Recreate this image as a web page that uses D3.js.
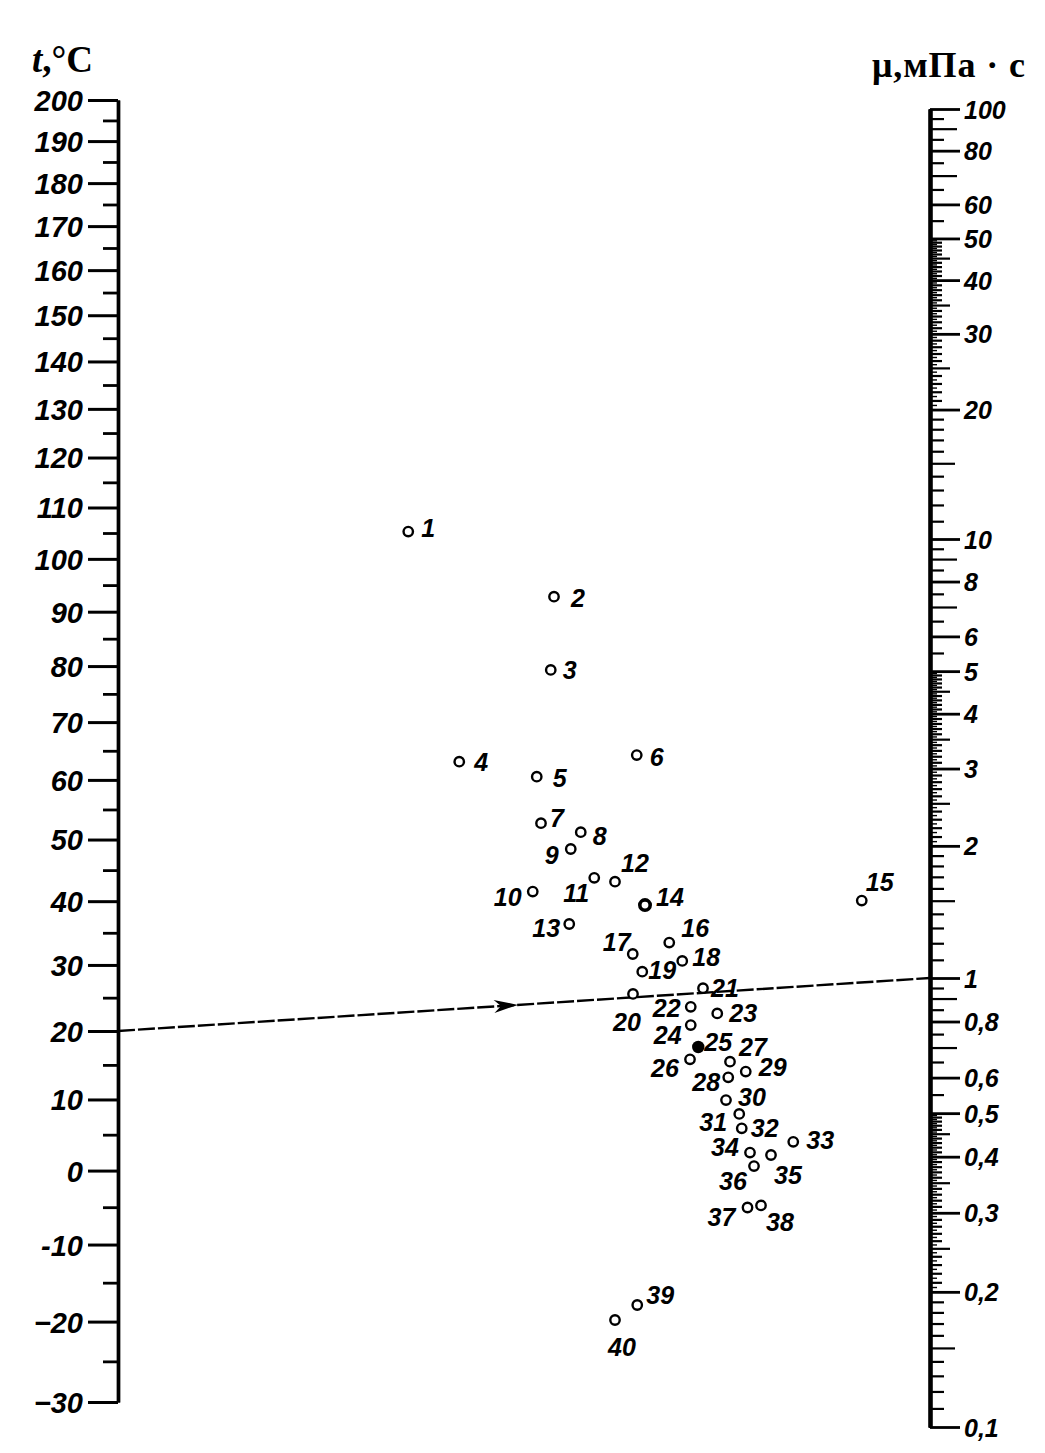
<!DOCTYPE html>
<html>
<head>
<meta charset="utf-8">
<script src="https://cdn.jsdelivr.net/npm/d3@7"></script>
<style>
  html, body { margin: 0; background: #fff; }
  .num { font-family: "Liberation Sans Narrow", "Liberation Sans", Arial, sans-serif; font-weight: bold; font-style: italic; fill: #000; }
  .ttl { font-family: "Liberation Serif", "Times New Roman", serif; font-weight: bold; fill: #000; }
</style>
</head>
<body>
<svg id="chart" width="1045" height="1453"></svg>
<script>
// ---- temperature scale (left), °C ----
const tempMajor = [200, 190, 180, 170, 160, 150, 140, 130, 120, 110, 100, 90, 80, 70, 60, 50, 40, 30, 20, 10, 0, -10, -20, -30];
const tempMajorLabels = ["200", "190", "180", "170", "160", "150", "140", "130", "120", "110", "100", "90", "80", "70", "60", "50", "40", "30", "20", "10", "0", "-10", "\u221220", "\u221230"];
const tempMinor = [195, 185, 175, 165, 155, 145, 135, 125, 115, 105, 95, 85, 75, 65, 55, 45, 35, 25, 15, 5, -5, -15, -25];

// ---- viscosity scale (right), mPa·s ----
const muLabelled = [100, 80, 60, 50, 40, 30, 20, 10, 8, 6, 5, 4, 3, 2, 1, 0.8, 0.6, 0.5, 0.4, 0.3, 0.2, 0.1];
const muLabelText = ["100", "80", "60", "50", "40", "30", "20", "10", "8", "6", "5", "4", "3", "2", "1", "0,8", "0,6", "0,5", "0,4", "0,3", "0,2", "0,1"];

// ---- liquids: numbers and their nomogram grid coordinates ----
const liquidNo = [1, 2, 3, 4, 5, 6, 7, 8, 9, 10, 11, 12, 13, 14, 15, 16, 17, 18, 19, 20,
                  21, 22, 23, 24, 25, 26, 27, 28, 29, 30, 31, 32, 33, 34, 35, 36, 37, 38, 39, 40];
const gridX = [0.33, 6.16, 6.03, 2.37, 5.47, 9.47, 5.64, 7.23, 6.83, 5.31, 7.77, 8.60, 6.77, 9.80, 18.47, 10.77, 9.31, 11.29, 9.69, 9.32,
               12.12, 11.63, 12.69, 11.63, 11.93, 11.60, 13.20, 13.13, 13.83, 13.04, 13.57, 13.67, 15.73, 14.00, 14.84, 14.16, 13.90, 14.44, 9.49, 8.60];
const gridY = [27.28, 25.11, 22.67, 19.61, 19.11, 19.83, 17.56, 17.26, 16.70, 15.28, 15.74, 15.61, 14.20, 14.83, 14.98, 13.58, 13.20, 12.97, 12.61, 11.87,
               12.06, 11.44, 11.22, 10.83, 10.10, 9.69, 9.61, 9.09, 9.28, 8.33, 7.87, 7.39, 6.94, 6.58, 6.50, 6.13, 4.75, 4.82, 1.50, 1.00];

// ---- worked example: 20 °C through liquid 20 gives 1 mPa·s ----
const exampleTemp = 20;
const exampleMu = 1;

// ---------------------------------------------------------------
const svg = d3.select("#chart");
svg.append("rect").attr("width", 1045).attr("height", 1453).attr("fill", "#fff");

const AXIS_T_X = 118, AXIS_MU_X = 930;
const T_SHIFT = 255; // temperature axis is logarithmic in (t + 255)
const tScale = d3.scaleLog().domain([-30 + T_SHIFT, 200 + T_SHIFT]).range([1402, 100]);
const yT = t => tScale(t + T_SHIFT);
const muScale = d3.scaleLog().domain([0.1, 1, 10, 100]).range([1427, 978, 539, 109]);
const gx = d3.scaleLinear().domain([0, 20]).range([400, 900]);
const gy = d3.scaleLinear().domain([0, 30]).range([1350, 450]);

function styleAxis(g, tickW) {
  g.attr("font-size", null).attr("font-family", null);
  g.select(".domain").attr("stroke", "#000").attr("stroke-width", 3.4);
  g.selectAll(".tick line").attr("stroke", "#000").attr("stroke-width", tickW);
}

// left axis: minor then major ticks
const tMinorG = svg.append("g").attr("transform", `translate(${AXIS_T_X},0)`)
  .call(d3.axisLeft(tScale).tickValues(tempMinor.map(t => t + T_SHIFT)).tickSize(15).tickSizeOuter(0).tickFormat(""));
styleAxis(tMinorG, 2.8);
const tMajorG = svg.append("g").attr("transform", `translate(${AXIS_T_X},0)`)
  .call(d3.axisLeft(tScale).tickValues(tempMajor.map(t => t + T_SHIFT)).tickSize(30).tickSizeOuter(0).tickPadding(5)
    .tickFormat((d, i) => tempMajorLabels[i]));
styleAxis(tMajorG, 3);
tMajorG.selectAll(".tick text").attr("class", "num").attr("font-size", 29).attr("dy", "0.36em");

// right axis: graded minor ticks inside each decade
const minorGroups = new Map();
function addMinor(v, len) {
  if (!minorGroups.has(len)) minorGroups.set(len, []);
  minorGroups.get(len).push(v);
}
[0.1, 1, 10].forEach(dec => {
  for (let k = 11; k <= 19; k++) {          // 5.5 … 9.5 step 0.5
    const m = k / 2;
    if (m === 6 || m === 8) continue;
    addMinor(m * dec, (m === 7 || m === 9) ? 27 : 14);
  }
  for (let k = 41; k <= 99; k++) {          // 2.05 … 4.95 step 0.05
    if (k % 20 === 0) continue;
    const m = k / 20;
    let len = 7;
    if (k % 10 === 0) len = 20;
    else if (k % 2 === 0) len = 12;
    addMinor(m * dec, len);
  }
  for (let k = 11; k <= 19; k++) {          // 1.1 … 1.9 step 0.1
    addMinor((k / 10) * dec, k === 15 ? 25 : 14);
  }
});
minorGroups.forEach((vals, len) => {
  const g = svg.append("g").attr("transform", `translate(${AXIS_MU_X},0)`)
    .call(d3.axisRight(muScale).tickValues(vals).tickSize(len).tickSizeOuter(0).tickFormat(""));
  styleAxis(g, len <= 8 ? 1.4 : 2.2);
});
const muG = svg.append("g").attr("transform", `translate(${AXIS_MU_X},0)`)
  .call(d3.axisRight(muScale).tickValues(muLabelled).tickSize(30).tickSizeOuter(0).tickPadding(4)
    .tickFormat((d, i) => muLabelText[i]));
styleAxis(muG, 2.8);
muG.selectAll(".tick text").attr("class", "num").attr("font-size", 25).attr("dy", "0.36em");

// axis titles
const tTitle = svg.append("text").attr("class", "ttl").attr("x", 32).attr("y", 72).attr("font-size", 37);
tTitle.append("tspan").attr("font-style", "italic").text("t");
tTitle.append("tspan").text(",°C");
svg.append("text").attr("class", "ttl").attr("x", 872).attr("y", 77).attr("font-size", 36)
  .attr("textLength", 153).attr("lengthAdjust", "spacing")
  .text("\u03bc,\u043c\u041f\u0430 \u00b7 \u0441");

// worked example line with arrow
const x0 = AXIS_T_X, y0 = yT(exampleTemp);
const x1 = AXIS_MU_X, y1 = muScale(exampleMu);
svg.append("line").attr("x1", x0).attr("y1", y0).attr("x2", x1).attr("y2", y1)
  .attr("stroke", "#000").attr("stroke-width", 2.4).attr("stroke-dasharray", "17,3");
const ang = Math.atan2(y1 - y0, x1 - x0);
const tipX = 518, tipY = y0 + (tipX - x0) * Math.tan(ang);
svg.append("path")
  .attr("d", "M0,0 L-24,-6.5 L-17,0 L-24,6.5 Z")
  .attr("transform", `translate(${tipX},${tipY}) rotate(${ang * 180 / Math.PI})`)
  .attr("fill", "#000");

// label placement around each liquid point
const labelOffset = [
  [20, -4], [24, 1], [19, 0], [22, 0], [23, 1], [20, 2], [16, -5], [19, 4], [-19, 6], [-25, 5],
  [-18, 15], [20, -19], [-23, 4], [25, -8], [18, -19], [26, -15], [-16, -12], [24, -4], [20, -2], [-6, 28],
  [22, 0], [-24, 1], [26, 0], [-23, 10], [20, -5], [-25, 9], [23, -15], [-22, 5], [27, -5], [26, -3],
  [-26, 8], [23, 0], [27, -2], [-25, -6], [17, 20], [-21, 15], [-26, 9], [19, 17], [23, -10], [7, 27]
];

const pts = svg.append("g");
liquidNo.forEach((n, i) => {
  const cx = gx(gridX[i]), cy = gy(gridY[i]);
  const c = pts.append("circle").attr("cx", cx).attr("cy", cy);
  if (n === 25) c.attr("r", 6.2).attr("fill", "#000");
  else if (n === 14) c.attr("r", 5.2).attr("fill", "#fff").attr("stroke", "#000").attr("stroke-width", 3.6);
  else c.attr("r", 4.7).attr("fill", "#fff").attr("stroke", "#000").attr("stroke-width", 2.4);
  pts.append("text").attr("class", "num").attr("font-size", 25)
    .attr("x", cx + labelOffset[i][0]).attr("y", cy + labelOffset[i][1])
    .attr("text-anchor", "middle").attr("dy", "0.36em").text(n);
});
</script>
</body>
</html>
